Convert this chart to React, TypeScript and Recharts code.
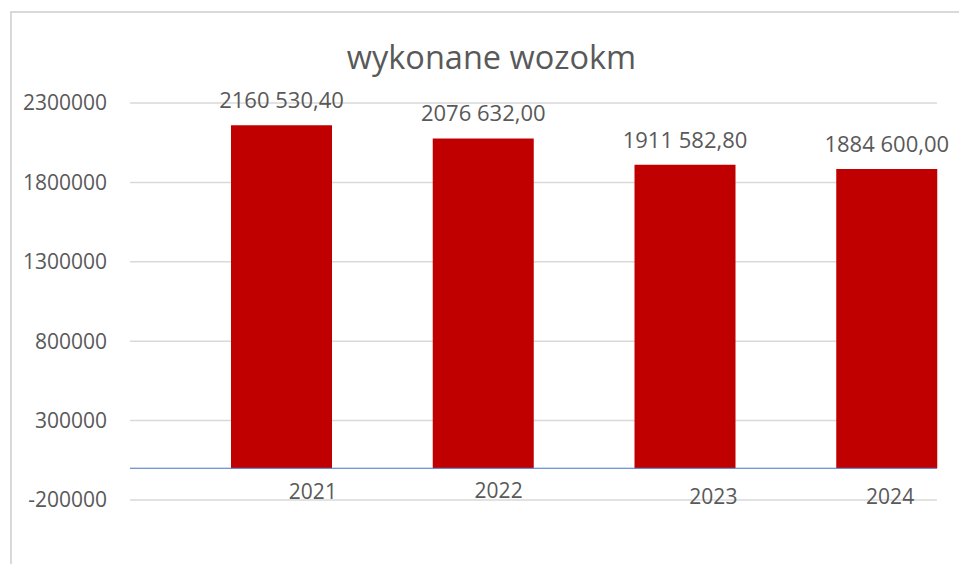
import { Bar, BarChart, CartesianGrid, LabelList, ReferenceLine, XAxis, YAxis } from "recharts";

const years = ["2021", "2022", "2023", "2024"];
const wozokm = [2160530.4, 2076632.0, 1911582.8, 1884600.0];
// empty first series from the source workbook, keeps bars in the right half of each slot
const emptySeries = [null, null, null, null];
const yTicks = [-200000, 300000, 800000, 1300000, 1800000, 2300000];

// hand-placed year labels in the original
const yearNudge = [
  { dx: 82, dy: -8 },
  { dx: 66, dy: -9 },
  { dx: 79, dy: -3 },
  { dx: 54, dy: -3 },
];

const TEXT = "#595959";
const FONT = "'Open Sans', sans-serif";

const data = years.map((year, i) => ({
  year,
  blank: emptySeries[i],
  value: wozokm[i],
}));

function formatValue(v: number): string {
  const whole = Math.floor(v);
  const cents = Math.round((v - whole) * 100);
  const thousands = Math.floor(whole / 1000);
  const rest = String(whole % 1000).padStart(3, "0");
  return `${thousands} ${rest},${String(cents).padStart(2, "0")}`;
}

function YearTick(props: any) {
  const { x, y, payload, index } = props;
  const n = yearNudge[index] || { dx: 0, dy: 0 };
  return (
    <text
      x={x + n.dx}
      y={y + n.dy}
      dy="0.355em"
      textAnchor="middle"
      fill={TEXT}
      fontSize={21}
      fontFamily={FONT}
    >
      {payload.value}
    </text>
  );
}

export default function App() {
  return (
    <div
      style={{
        position: "absolute",
        left: 0,
        top: 0,
        width: 959,
        height: 564,
        overflow: "hidden",
        background: "#fff",
      }}
    >
      <div
        style={{
          position: "absolute",
          left: 10,
          top: 11,
          width: 1000,
          height: 600,
          border: "2px solid #d9d9d9",
        }}
      />
      <div
        style={{
          position: "absolute",
          left: 24,
          top: 34,
          width: 935,
          textAlign: "center",
          fontFamily: FONT,
          fontSize: 32.5,
          color: TEXT,
          lineHeight: "46px",
        }}
      >
        wykonane wozokm
      </div>
      <div style={{ position: "absolute", left: 0, top: 0 }}>
        <BarChart
          width={959}
          height={564}
          data={data}
          margin={{ top: 103, right: 22, bottom: 34, left: 10 }}
          barCategoryGap={0}
          barGap={0}
        >
          <CartesianGrid vertical={false} stroke="#d9d9d9" strokeWidth={1.5} />
          <XAxis
            dataKey="year"
            axisLine={false}
            tickLine={false}
            tickSize={0}
            tickMargin={0}
            height={30}
            interval={0}
            tick={<YearTick />}
          />
          <YAxis
            domain={[-200000, 2300000]}
            ticks={yTicks}
            axisLine={false}
            tickLine={false}
            tickSize={0}
            tickMargin={23}
            width={120}
            interval={0}
            tick={{ fill: TEXT, fontSize: 21, fontFamily: FONT }}
          />
          <ReferenceLine y={0} stroke="#4472c4" strokeWidth={1} />
          <Bar dataKey="blank" fill="#4472c4" isAnimationActive={false} />
          <Bar dataKey="value" fill="#c00000" isAnimationActive={false}>
            <LabelList
              dataKey="value"
              position="top"
              offset={17}
              formatter={(v: any) => formatValue(Number(v))}
              fill={TEXT}
              fontSize={22}
              fontFamily={FONT}
            />
          </Bar>
        </BarChart>
      </div>
    </div>
  );
}
